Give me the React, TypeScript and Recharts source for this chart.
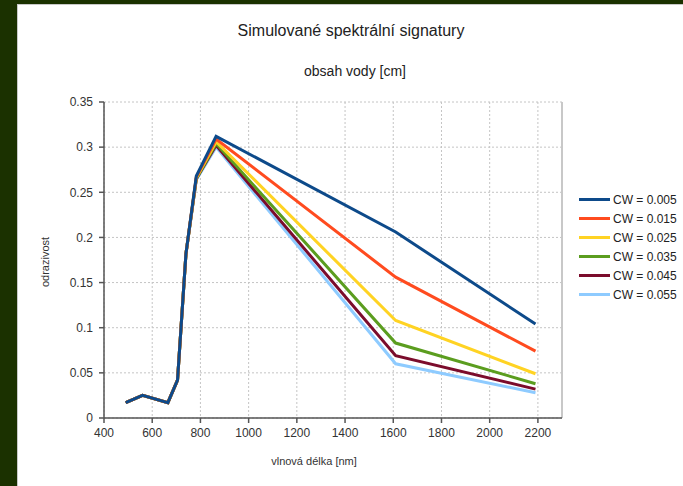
import React from 'react';
import {
  LineChart,
  Line,
  XAxis,
  YAxis,
  CartesianGrid,
  ReferenceLine,
} from 'recharts';

// Sentinel-2 band centres [nm]
const wavelengths = [490, 560, 665, 705, 740, 783, 865, 1610, 2190];

// reflectance per water content
const cw005 = [0.017, 0.025, 0.017, 0.042, 0.182, 0.268, 0.312, 0.206, 0.104];
const cw015 = [0.017, 0.025, 0.017, 0.042, 0.182, 0.267, 0.309, 0.156, 0.074];
const cw025 = [0.017, 0.025, 0.017, 0.042, 0.182, 0.266, 0.306, 0.108, 0.049];
const cw035 = [0.017, 0.025, 0.017, 0.042, 0.182, 0.265, 0.304, 0.083, 0.038];
const cw045 = [0.017, 0.025, 0.017, 0.042, 0.182, 0.265, 0.302, 0.069, 0.032];
const cw055 = [0.017, 0.025, 0.017, 0.042, 0.182, 0.264, 0.300, 0.060, 0.028];

const seriesNames = ['CW = 0.005', 'CW = 0.015', 'CW = 0.025', 'CW = 0.035', 'CW = 0.045', 'CW = 0.055'];
const seriesValues = [cw005, cw015, cw025, cw035, cw045, cw055];
const seriesColors = ['#0d4a8a', '#ff4b1f', '#ffd323', '#5b9d1f', '#7b0c2c', '#8ecbff'];

const xTicks = [400, 600, 800, 1000, 1200, 1400, 1600, 1800, 2000, 2200];
const yTicks = [0, 0.05, 0.1, 0.15, 0.2, 0.25, 0.3, 0.35];

const data = wavelengths.map((wl, i) => {
  const row: Record<string, number> = { wl };
  seriesValues.forEach((vals, s) => {
    row[`s${s}`] = vals[i];
  });
  return row;
});

const font = '"Liberation Sans", Arial, sans-serif';
const tickStyle = { fontSize: 12, fill: '#333', fontFamily: font };

export default function App() {
  // draw the last series first so CW = 0.005 ends up on top
  const order = seriesNames.map((_, i) => i).reverse();

  return (
    <div
      style={{
        position: 'absolute',
        left: 0,
        top: 0,
        width: 683,
        height: 486,
        background: '#1b3100',
        overflow: 'hidden',
        fontFamily: font,
      }}
    >
      <div
        style={{
          position: 'absolute',
          left: 17,
          top: 4,
          width: 666,
          height: 482,
          background: '#fff',
          borderTop: '1px solid #c8c8c8',
          borderLeft: '1px solid #c8c8c8',
        }}
      />

      <div style={{ position: 'absolute', left: 0, width: 702, top: 22, textAlign: 'center', fontSize: 16, color: '#222' }}>
        Simulované spektrální signatury
      </div>
      <div style={{ position: 'absolute', left: 0, width: 710, top: 63, textAlign: 'center', fontSize: 14, color: '#222' }}>
        obsah vody [cm]
      </div>
      <div
        style={{
          position: 'absolute',
          left: 45,
          top: 262,
          transform: 'translate(-50%, -50%) rotate(-90deg)',
          fontSize: 11,
          color: '#333',
          whiteSpace: 'nowrap',
        }}
      >
        odrazivost
      </div>
      <div style={{ position: 'absolute', left: 214, width: 200, top: 455, textAlign: 'center', fontSize: 11, color: '#333' }}>
        vlnová délka [nm]
      </div>

      <div style={{ position: 'absolute', left: 0, top: 0 }}>
        <LineChart width={683} height={486} data={data} margin={{ top: 102, right: 121, bottom: 38, left: 44 }}>
          <CartesianGrid stroke="#c4c4c4" strokeDasharray="2 2" />
          <XAxis
            dataKey="wl"
            type="number"
            domain={[400, 2300]}
            ticks={xTicks}
            height={30}
            tickSize={5}
            tickMargin={5}
            stroke="#555"
            strokeWidth={1.5}
            tick={tickStyle}
          />
          <YAxis
            type="number"
            domain={[0, 0.35]}
            ticks={yTicks}
            width={60}
            tickSize={5}
            tickMargin={6}
            stroke="#555"
            strokeWidth={1.5}
            tick={tickStyle}
          />
          <ReferenceLine x={2300} stroke="#c8c8c8" strokeWidth={2} />
          {order.map((s) => (
            <Line
              key={seriesNames[s]}
              dataKey={`s${s}`}
              name={seriesNames[s]}
              type="linear"
              stroke={seriesColors[s]}
              strokeWidth={3}
              dot={false}
              isAnimationActive={false}
            />
          ))}
        </LineChart>
      </div>

      <div style={{ position: 'absolute', left: 579, top: 190 }}>
        {seriesNames.map((name, i) => (
          <div key={name} style={{ display: 'flex', alignItems: 'center', height: 19, whiteSpace: 'nowrap' }}>
            <div style={{ width: 31, height: 3, background: seriesColors[i], marginRight: 3 }} />
            <span style={{ fontSize: 12, color: '#222' }}>{name}</span>
          </div>
        ))}
      </div>
    </div>
  );
}
